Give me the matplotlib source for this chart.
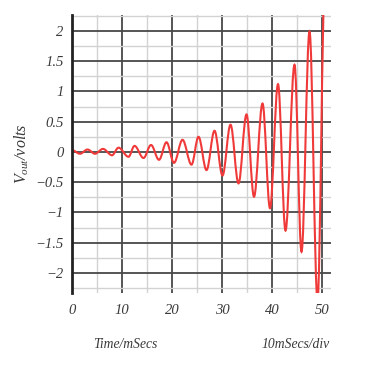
import matplotlib
matplotlib.use("Agg")
import matplotlib.pyplot as plt
from matplotlib.path import Path
from matplotlib.patches import PathPatch
from matplotlib.ticker import MultipleLocator, FixedLocator, FixedFormatter

# peaks and troughs (t in ms, v in volts)
t_ext = [0.0, 1.6, 3.1, 4.6, 6.2, 8.0, 9.3, 11.3, 12.5, 14.3,
         15.8, 17.4, 18.9, 20.4, 22.1, 23.9, 25.3, 26.9, 28.5, 30.1,
         31.7, 33.3, 34.9, 36.4, 38.1, 39.6, 41.2, 42.7, 44.5, 45.9,
         47.5, 49.1, 50.6]
v_ext = [0.03, -0.03, 0.04, -0.03, 0.05, -0.055, 0.07, -0.08, 0.10, -0.10,
         0.115, -0.13, 0.16, -0.18, 0.20, -0.21, 0.25, -0.30, 0.35, -0.39,
         0.45, -0.52, 0.62, -0.74, 0.80, -0.93, 1.12, -1.30, 1.44, -1.65,
         1.99, -2.45, 2.9]

x_ticks = [0, 10, 20, 30, 40, 50]
x_labels = ["0", "10", "20", "30", "40", "50"]
y_ticks = [2, 1.5, 1, 0.5, 0, -0.5, -1, -1.5, -2]
y_labels = ["2", "1.5", "1", "0.5", "0", "\u22120.5", "\u22121", "\u22121.5", "\u22122"]

plt.rcParams['font.family'] = ['Liberation Serif', 'DejaVu Serif']
plt.rcParams['font.style'] = 'italic'
plt.rcParams['mathtext.fontset'] = 'custom'
plt.rcParams['mathtext.it'] = 'Liberation Serif:italic'
plt.rcParams['mathtext.rm'] = 'Liberation Serif:italic'

fig = plt.figure(figsize=(3.77, 3.69), dpi=100)
ax = fig.add_axes([0.191, 0.206, 0.687, 0.753])

ax.set_xlim(0, 51.8)
ax.set_ylim(-2.33, 2.26)

ax.xaxis.set_major_locator(FixedLocator(x_ticks))
ax.xaxis.set_major_formatter(FixedFormatter(x_labels))
ax.yaxis.set_major_locator(FixedLocator(y_ticks))
ax.yaxis.set_major_formatter(FixedFormatter(y_labels))
ax.xaxis.set_minor_locator(MultipleLocator(5))
ax.yaxis.set_minor_locator(MultipleLocator(0.25))

ax.grid(which='minor', color='#d2d2d2', lw=1.0)
ax.grid(which='major', color='#484848', lw=1.3)
ax.set_axisbelow(True)

ax.tick_params(which='both', length=0, labelsize=10.5, colors='#3a3a3a')
ax.tick_params(axis='y', pad=6)
ax.tick_params(axis='x', pad=8)

for s in ['top', 'right', 'bottom']:
    ax.spines[s].set_visible(False)
ax.spines['left'].set_color('#222222')
ax.spines['left'].set_linewidth(2)

# smooth half-cycles between extrema: cubic Bezier with flat tangents
verts = [(t_ext[0], v_ext[0])]
codes = [Path.MOVETO]
for i in range(1, len(t_ext)):
    t0, v0 = t_ext[i - 1], v_ext[i - 1]
    t1, v1 = t_ext[i], v_ext[i]
    dt = t1 - t0
    verts += [(t0 + 0.36 * dt, v0), (t1 - 0.36 * dt, v1), (t1, v1)]
    codes += [Path.CURVE4] * 3
trace = PathPatch(Path(verts, codes), facecolor='none', edgecolor='#f03a3a',
                  lw=1.5, transform=ax.transData)
ax.add_patch(trace)

ax.set_ylabel(r'$V_{out}$/volts', fontsize=11.5, color='#3a3a3a')
ax.yaxis.set_label_coords(-0.158, 0.5)

fig.text(125 / 377, 1 - 345 / 369, 'Time/mSecs', ha='center', va='center',
         fontsize=9.8, color='#3a3a3a')
fig.text(330 / 377, 1 - 345 / 369, '10mSecs/div', ha='right', va='center',
         fontsize=9.8, color='#3a3a3a')

fig.savefig('out.png', dpi=100)
